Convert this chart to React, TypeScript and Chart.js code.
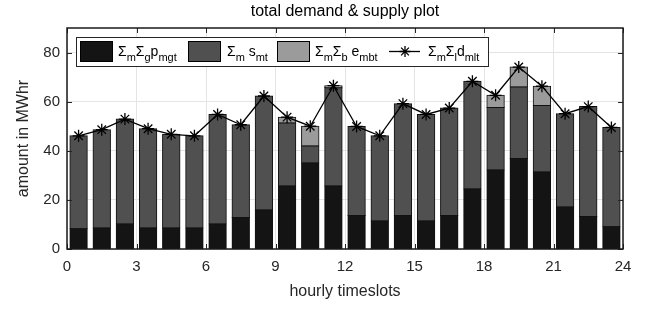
import React, { useEffect, useRef } from "react";
import { Chart, registerables } from "chart.js";

Chart.register(...registerables);

// ---- data ----
const slots = [0.5, 1.5, 2.5, 3.5, 4.5, 5.5, 6.5, 7.5, 8.5, 9.5, 10.5, 11.5, 12.5, 13.5, 14.5, 15.5, 16.5, 17.5, 18.5, 19.5, 20.5, 21.5, 22.5, 23.5];
const generation = [8.2, 8.6, 10.2, 8.6, 8.6, 8.6, 10.2, 12.8, 15.9, 25.7, 35.0, 25.7, 13.6, 11.4, 13.6, 11.4, 13.6, 24.4, 32.2, 36.9, 31.4, 17.1, 13.2, 9.1];
const storage = [37.9, 40.0, 42.7, 40.4, 38.1, 37.5, 44.6, 37.8, 46.4, 25.6, 6.9, 40.0, 36.3, 34.7, 45.6, 43.4, 43.8, 43.9, 25.4, 29.1, 27.0, 38.0, 44.8, 40.4];
const exchange = [null, null, null, null, null, null, null, null, null, 2.4, 8.1, 0.8, null, null, null, null, null, null, 5.0, 8.1, 7.9, null, null, null];
const demand = [46.1, 48.6, 52.9, 49.0, 46.7, 46.1, 54.8, 50.6, 62.3, 53.7, 50.0, 66.5, 49.9, 46.1, 59.2, 54.8, 57.4, 68.3, 62.6, 74.1, 66.3, 55.1, 58.0, 49.5];
const xTickValues = [0, 3, 6, 9, 12, 15, 18, 21, 24];
const yTickValues = [0, 20, 40, 60, 80];

const titleText = "total demand & supply plot";
const xTitle = "hourly timeslots";
const yTitle = "amount in MWhr";

type Seg = [string, boolean];
const legendItems: { kind: "box" | "line"; color: string; segs: Seg[] }[] = [
  { kind: "box", color: "#141414", segs: [["Σ", false], ["m", true], ["Σ", false], ["g", true], ["p", false], ["mgt", true]] },
  { kind: "box", color: "#505050", segs: [["Σ", false], ["m", true], [" s", false], ["mt", true]] },
  { kind: "box", color: "#9b9b9b", segs: [["Σ", false], ["m", true], ["Σ", false], ["b", true], [" e", false], ["mbt", true]] },
  { kind: "line", color: "#000000", segs: [["Σ", false], ["m", true], ["Σ", false], ["l", true], ["d", false], ["mlt", true]] },
];

const FONT = "'Liberation Sans', Arial, Helvetica, sans-serif";

function drawStar(ctx: CanvasRenderingContext2D, x: number, y: number, r: number) {
  ctx.beginPath();
  ctx.moveTo(x - r, y); ctx.lineTo(x + r, y);
  ctx.moveTo(x, y - r); ctx.lineTo(x, y + r);
  const d = r * 0.7071;
  ctx.moveTo(x - d, y - d); ctx.lineTo(x + d, y + d);
  ctx.moveTo(x - d, y + d); ctx.lineTo(x + d, y - d);
  ctx.stroke();
}

const axesPlugin = {
  id: "matlabAxes",
  afterDraw(chart: any) {
    const ctx: CanvasRenderingContext2D = chart.ctx;
    const { left, right, top, bottom } = chart.chartArea;
    const xs = chart.scales.x;
    const ys = chart.scales.y;
    ctx.save();
    // inward ticks
    ctx.strokeStyle = "#262626";
    ctx.lineWidth = 1;
    const tl = 5;
    ctx.beginPath();
    xTickValues.forEach((v) => {
      const px = Math.round(xs.getPixelForValue(v)) + 0.5;
      ctx.moveTo(px, bottom); ctx.lineTo(px, bottom - tl);
      ctx.moveTo(px, top); ctx.lineTo(px, top + tl);
    });
    yTickValues.forEach((v) => {
      const py = Math.round(ys.getPixelForValue(v)) + 0.5;
      ctx.moveTo(left, py); ctx.lineTo(left + tl, py);
      ctx.moveTo(right, py); ctx.lineTo(right - tl, py);
    });
    ctx.stroke();
    // box
    ctx.strokeStyle = "#1a1a1a";
    ctx.lineWidth = 1.5;
    ctx.strokeRect(left, top, right - left, bottom - top);

    // legend
    const lx = 76.5, ly = 37.5, lw = 412, lh = 29;
    ctx.fillStyle = "#ffffff";
    ctx.fillRect(lx, ly, lw, lh);
    ctx.strokeStyle = "#262626";
    ctx.lineWidth = 1;
    ctx.strokeRect(lx, ly, lw, lh);
    const sampleX = [80, 188, 277, 389];
    const textX = [118, 227, 315, 428];
    const cy = 51.5;
    legendItems.forEach((it, i) => {
      const sx = sampleX[i];
      if (it.kind === "box") {
        ctx.fillStyle = it.color;
        ctx.fillRect(sx + 0.5, 41.5, 32, 20);
        ctx.strokeStyle = "#000";
        ctx.lineWidth = 1;
        ctx.strokeRect(sx + 0.5, 41.5, 32, 20);
      } else {
        ctx.strokeStyle = "#000";
        ctx.lineWidth = 1.3;
        ctx.beginPath();
        ctx.moveTo(sx, cy); ctx.lineTo(sx + 31, cy);
        ctx.stroke();
        drawStar(ctx, sx + 16, cy, 5.5);
      }
      let x = textX[i];
      ctx.fillStyle = "#000";
      ctx.textBaseline = "alphabetic";
      ctx.textAlign = "left";
      it.segs.forEach(([t, sub]) => {
        ctx.font = sub ? `11px ${FONT}` : `14px ${FONT}`;
        const y = sub ? 61 : 56;
        ctx.fillText(t, x, y);
        x += ctx.measureText(t).width;
      });
    });
    ctx.restore();
  },
};

export default function App() {
  const ref = useRef<HTMLCanvasElement | null>(null);
  useEffect(() => {
    if (!ref.current) return;
    Chart.defaults.font.family = FONT;
    const toXY = (arr: (number | null)[]) => slots.map((x, i) => ({ x, y: arr[i] }));
    const barCommon = {
      borderColor: "#111111",
      borderWidth: 1,
      borderSkipped: false,
      inflateAmount: 0.5,
      barPercentage: 0.75,
      categoryPercentage: 1,
      stack: "supply",
      order: 1,
    };
    const chart = new Chart(ref.current, {
      type: "bar",
      data: {
        datasets: [
          {
            type: "line",
            label: "demand",
            data: toXY(demand),
            borderColor: "#000",
            borderWidth: 1.3,
            pointStyle: "star",
            pointRadius: 6,
            pointBorderColor: "#000",
            pointBackgroundColor: "#000",
            pointBorderWidth: 1.3,
            fill: false,
            tension: 0,
            order: 0,
            stack: "demand",
          } as any,
          { ...barCommon, label: "generation", data: toXY(generation), backgroundColor: "#141414" } as any,
          { ...barCommon, label: "storage", data: toXY(storage), backgroundColor: "#505050" } as any,
          { ...barCommon, label: "exchange", data: toXY(exchange), backgroundColor: "#9b9b9b" } as any,
        ],
      },
      plugins: [axesPlugin],
      options: {
        responsive: false,
        animation: false,
        devicePixelRatio: 1,
        layout: { padding: { left: 0, right: 34, top: 0, bottom: 0 } },
        plugins: {
          legend: { display: false },
          tooltip: { enabled: false },
          title: {
            display: true,
            text: titleText,
            fullSize: false,
            color: "#000",
            font: { size: 16, weight: "normal", family: FONT },
            padding: { top: 2.4, bottom: 6.4 },
          },
        },
        scales: {
          x: {
            type: "linear",
            min: 0,
            max: 24,
            offset: false,
            stacked: true,
            afterFit: (s: any) => { s.height = 61; },
            ticks: { stepSize: 3, color: "#262626", font: { size: 15 }, padding: 9, maxRotation: 0, autoSkip: false },
            grid: { color: "#e4e4e4", lineWidth: 1, drawTicks: false, offset: false },
            border: { display: false },
            title: { display: true, text: xTitle, color: "#262626", font: { size: 16 }, padding: { top: 0, bottom: 9 } },
          },
          y: {
            min: 0,
            max: 90,
            stacked: true,
            afterFit: (s: any) => { s.width = 67; },
            ticks: { stepSize: 20, includeBounds: false, color: "#262626", font: { size: 15 }, padding: 7 },
            grid: { color: "#e4e4e4", lineWidth: 1, drawTicks: false },
            border: { display: false },
            title: { display: true, text: yTitle, color: "#262626", font: { size: 16 }, padding: { top: 14, bottom: 0 } },
          },
        },
      } as any,
    });
    return () => chart.destroy();
  }, []);
  return (
    <div style={{ position: "absolute", left: 0, top: 0, width: 657, height: 310, background: "#fff" }}>
      <canvas ref={ref} width={657} height={310} style={{ display: "block" }} />
    </div>
  );
}
